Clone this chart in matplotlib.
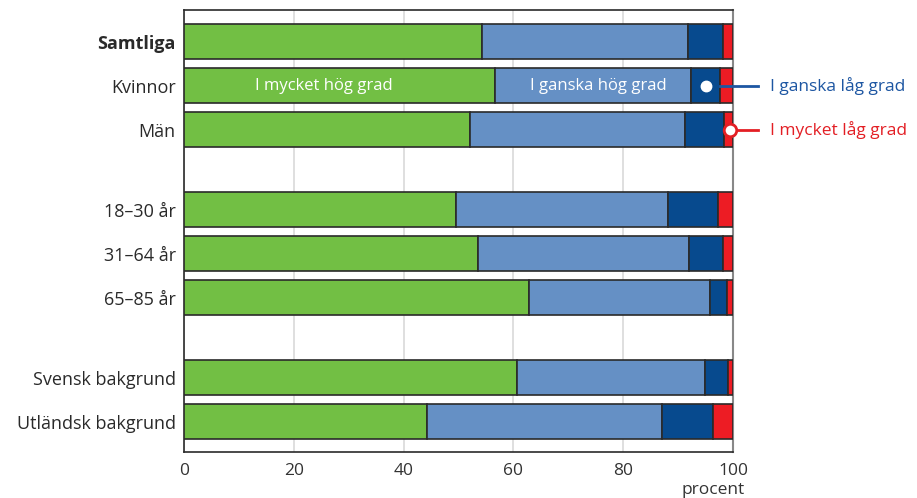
import matplotlib
matplotlib.use("Agg")
import matplotlib.pyplot as plt
import numpy as np

plt.rcParams['font.family'] = ['Open Sans', 'DejaVu Sans']

categories = ["Samtliga", "Kvinnor", "Män",
              "18–30 år", "31–64 år", "65–85 år",
              "Svensk bakgrund", "Utländsk bakgrund"]
groups = [0, 0, 0, 1, 1, 1, 2, 2]

series_names = ["I mycket hög grad", "I ganska hög grad", "I ganska låg grad", "I mycket låg grad"]
mycket_hog = [54.3, 56.7, 52.1, 49.5, 53.5, 62.9, 60.7, 44.2]
ganska_hog = [37.5, 35.7, 39.2, 38.7, 38.4, 32.9, 34.2, 42.8]
ganska_lag = [6.3, 5.2, 7.1, 9.1, 6.2, 3.1, 4.2, 9.4]
mycket_lag = [1.9, 2.4, 1.6, 2.7, 1.9, 1.1, 0.9, 3.6]

xticks = [0, 20, 40, 60, 80, 100]
xlabel = "procent"

colors = ["#72bf44", "#6590c5", "#074a8e", "#ed1c24"]

fig = plt.figure(figsize=(9.17, 4.98), dpi=100)
ax = fig.add_axes([184/917, 1-452/498, (733-184)/917, (452-10)/498])

gap = 0.82
ypos = np.array([i + g*gap for i, g in enumerate(groups)])

left = np.zeros(len(categories))
for vals, col in zip([mycket_hog, ganska_hog, ganska_lag, mycket_lag], colors):
    ax.barh(ypos, vals, left=left, height=0.81, color=col,
            edgecolor="#2a2a2a", linewidth=1.2, zorder=3)
    left += np.array(vals)

ax.set_xlim(0, 100)
ax.set_ylim(ypos[-1] + 0.69, -0.72)
ax.set_yticks(ypos)
ax.set_yticklabels(categories, fontsize=13, color="#2a2a2a")
ax.get_yticklabels()[0].set_fontweight("bold")
ax.set_xticks(xticks)
ax.set_xticklabels([str(t) for t in xticks], fontsize=12.5, color="#333333")
ax.tick_params(axis="y", length=0, pad=6)
ax.tick_params(axis="x", length=0, pad=8)
ax.xaxis.grid(True, color="#d9d9d9", linewidth=1.2, zorder=0)
ax.set_axisbelow(True)
for s in ["left", "top", "bottom"]:
    ax.spines[s].set_color("#2a2a2a")
    ax.spines[s].set_linewidth(1.2)
ax.spines["right"].set_color("#888888")
ax.spines["right"].set_linewidth(1.5)

ax.text(1.021, -0.068, xlabel, transform=ax.transAxes, ha="right", va="top",
        fontsize=12.5, color="#333333")

# inside labels on Kvinnor bar
ky = ypos[1]
ax.text(mycket_hog[1]/2 - 2.9, ky, series_names[0], ha="center", va="center",
        color="white", fontsize=12, zorder=5)
ax.text(mycket_hog[1] + ganska_hog[1]/2 + 1.0, ky, series_names[1], ha="center", va="center",
        color="white", fontsize=12, zorder=5)

# callouts
blue_txt = "#1d56a2"
red_txt = "#e31e24"
dx = mycket_hog[1] + ganska_hog[1] + ganska_lag[1]*0.5
ax.plot([dx], [ky], marker="o", ms=7.5, color="white", mec="white", zorder=6, clip_on=False)
x_end = mycket_hog[1] + ganska_hog[1] + ganska_lag[1]
ax.plot([x_end, 104.5], [ky, ky], color="#1d56a2", lw=2, zorder=6, clip_on=False)
ax.text(106.7, ky, series_names[2], ha="left", va="center", color=blue_txt, fontsize=12.5,
        clip_on=False)

my = ypos[2]
rx = 100 - mycket_lag[2]/2 + 0.3
ax.plot([rx, 104.5], [my, my], color="#e31e24", lw=2, zorder=6, clip_on=False)
ax.plot([rx], [my], marker="o", ms=9, color="white", mec="#e31e24", mew=2, zorder=7, clip_on=False)
ax.text(106.7, my, series_names[3], ha="left", va="center", color=red_txt, fontsize=12.5,
        clip_on=False)

fig.savefig("out.png", dpi=100)
